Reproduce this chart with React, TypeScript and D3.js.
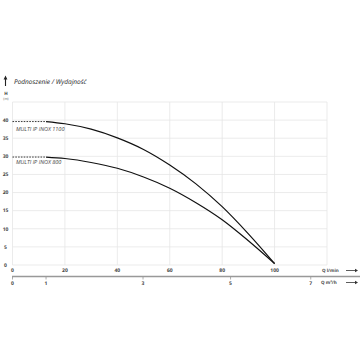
import React from "react";
import * as d3 from "d3";

const yTicks = [0, 5, 10, 15, 20, 25, 30, 35, 40];
const xGrid = [0, 20, 40, 60, 80, 100, 120];
const xTickLabels = [0, 20, 40, 60, 80, 100];
// m3/h tick labels, positioned by their l/min-equivalent as drawn in the reference
const m3Labels = ["0", "1", "3", "5", "7"];
const m3Pos = [0, 12.8, 49.8, 83.2, 113.8];

const q1100 = [12.8, 20, 30, 40, 50, 60, 70, 80, 90, 100];
const h1100 = [39.6, 39.0, 37.5, 35.1, 31.9, 27.6, 22.4, 16.1, 8.6, 0.4];
const q800 = [12.8, 20, 30, 40, 50, 60, 70, 80, 90, 100];
const h800 = [29.8, 29.4, 28.3, 26.7, 24.3, 21.2, 17.2, 12.5, 6.7, 0.4];
const dashStart = [0, 12.8];

const seriesNames = ["MULTI IP INOX 1100", "MULTI IP INOX 800"];

export default function App() {
  const W = 360, H = 360;
  const x = d3.scaleLinear().domain([0, 120]).range([12.5, 327]);
  const y = d3.scaleLinear().domain([0, 45]).range([265, 102]);
  const line = d3
    .line<[number, number]>()
    .x((d) => x(d[0]))
    .y((d) => y(d[1]))
    .curve(d3.curveMonotoneX);
  const p1100 = q1100.map((q, i) => [q, h1100[i]] as [number, number]);
  const p800 = q800.map((q, i) => [q, h800[i]] as [number, number]);
  const font = "'Open Sans', 'DejaVu Sans', sans-serif";
  return (
    <svg width={W} height={H} style={{ position: "absolute", left: 0, top: 0, background: "#fff" }} fontFamily={font} textRendering="geometricPrecision">
      {/* grid */}
      {yTicks.concat([45]).map((t) => (
        <line key={"h" + t} x1={x(0)} x2={x(120)} y1={y(t)} y2={y(t)} stroke="#e6e6e6" strokeWidth={0.8} />
      ))}
      {xGrid.map((t) => (
        <line key={"v" + t} x1={x(t)} x2={x(t)} y1={y(0)} y2={y(45)} stroke="#e6e6e6" strokeWidth={0.8} />
      ))}
      {/* y tick labels */}
      {yTicks.map((t) => (
        <text key={"yl" + t} x={5.5} y={y(t) + 1.8} fontSize={5} fontWeight="bold" fill="#444" textAnchor="middle">
          {t}
        </text>
      ))}
      {/* x tick labels */}
      {xTickLabels.map((t) => (
        <text key={"xl" + t} x={x(t)} y={272} fontSize={5} fontWeight="bold" fill="#444" textAnchor="middle">
          {t}
        </text>
      ))}
      {/* m3/h axis */}
      <line x1={12} x2={360} y1={276.5} y2={276.5} stroke="#999" strokeWidth={1.3} />
      {m3Labels.map((l, i) => (
        <g key={"m" + l}>
          <line x1={x(m3Pos[i])} x2={x(m3Pos[i])} y1={277} y2={279.5} stroke="#777" strokeWidth={0.6} />
          <text x={x(m3Pos[i])} y={284.5} fontSize={5} fontWeight="bold" fill="#444" textAnchor="middle">
            {l}
          </text>
        </g>
      ))}
      {/* axis names */}
      <text x={322} y={272} fontSize={4.5} fill="#444" fontWeight="bold">Q l/min</text>
      <line x1={346} x2={355} y1={270.5} y2={270.5} stroke="#333" strokeWidth={0.8} />
      <path d="M355,268.8 L358,270.5 L355,272.2 Z" fill="#333" />
      <text x={321} y={284} fontSize={4.5} fill="#444" fontWeight="bold">Q m³/h</text>
      <line x1={346} x2={355} y1={282.5} y2={282.5} stroke="#333" strokeWidth={0.8} />
      <path d="M355,280.8 L358,282.5 L355,284.2 Z" fill="#333" />
      {/* title */}
      <line x1={5.5} x2={5.5} y1={78} y2={86} stroke="#222" strokeWidth={1.1} />
      <path d="M3.6,79.5 L5.5,75.5 L7.4,79.5 Z" fill="#222" />
      <text x={14} y={84} fontSize={6.5} fontStyle="italic" fill="#222">Podnoszenie / Wydajność</text>
      <text x={6} y={95} fontSize={4.5} fontWeight="bold" fill="#333" textAnchor="middle">H</text>
      <text x={6} y={100} fontSize={3.5} fill="#555" textAnchor="middle">(m)</text>
      {/* dashed extensions */}
      <line x1={x(dashStart[0])} x2={x(dashStart[1])} y1={y(h1100[0])} y2={y(h1100[0])} stroke="#222" strokeWidth={0.9} strokeDasharray="1.6,1.2" />
      <line x1={x(dashStart[0])} x2={x(dashStart[1])} y1={y(h800[0])} y2={y(h800[0])} stroke="#222" strokeWidth={0.9} strokeDasharray="1.6,1.2" />
      {/* curves */}
      <path d={line(p1100) || ""} fill="none" stroke="#111" strokeWidth={1.2} />
      <path d={line(p800) || ""} fill="none" stroke="#111" strokeWidth={1.2} />
      {/* series labels */}
      <text x={16} y={131} fontSize={5.5} fontStyle="italic" fill="#444">{seriesNames[0]}</text>
      <text x={16} y={164} fontSize={5.5} fontStyle="italic" fill="#444">{seriesNames[1]}</text>
    </svg>
  );
}
